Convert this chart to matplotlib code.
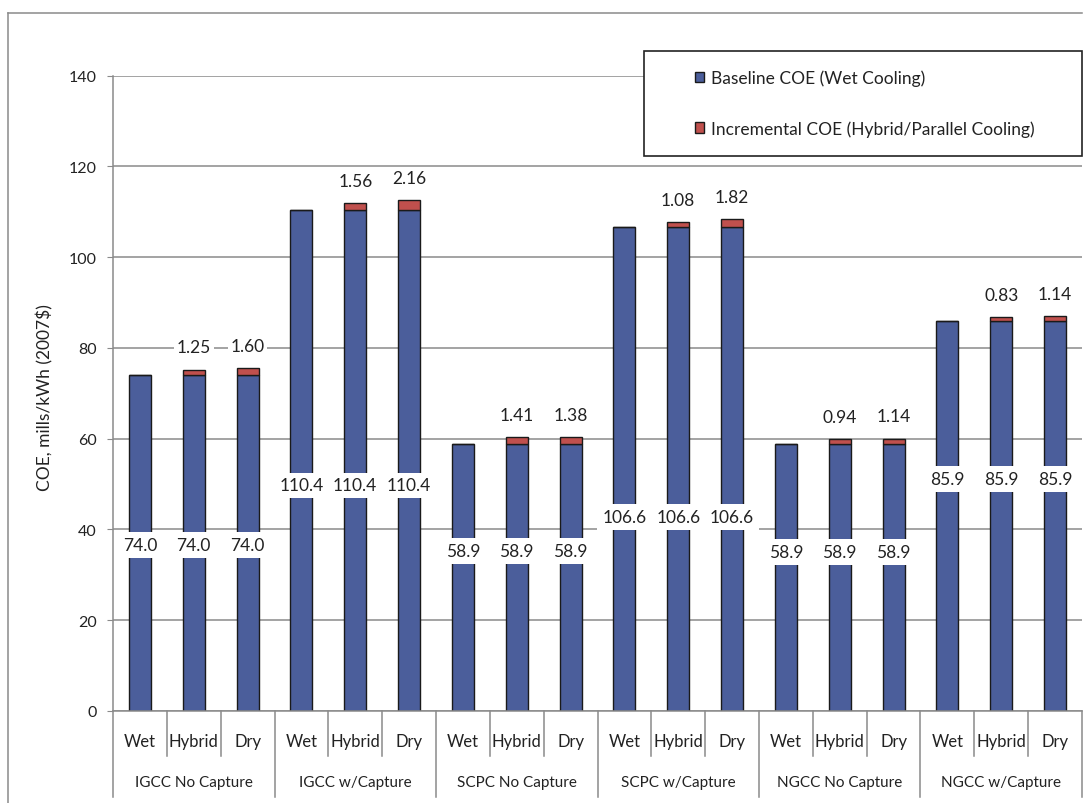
import numpy as np
import matplotlib
matplotlib.use("Agg")
import matplotlib.pyplot as plt
from matplotlib.patches import Rectangle, Patch
from matplotlib.lines import Line2D

plt.rcParams['font.family'] = ['Lato', 'DejaVu Sans']

# ---------------------------
# data
# ---------------------------
groups = ["IGCC No Capture", "IGCC w/Capture", "SCPC No Capture",
          "SCPC w/Capture", "NGCC No Capture", "NGCC w/Capture"]
cooling = ["Wet", "Hybrid", "Dry"]
baseline = [74.0, 110.4, 58.9, 106.6, 58.9, 85.9]
incr_hybrid = [1.25, 1.56, 1.41, 1.08, 0.94, 0.83]
incr_dry = [1.60, 2.16, 1.38, 1.82, 1.14, 1.14]

# where the baseline labels sit on each group (layout only)
base_label_y = [36.6, 49.7, 35.2, 42.8, 35.1, 51.2]

BLUE = "#4B5E9B"
RED = "#C0504D"
GRID = "#8a8a8a"
TXT = "#222222"
W, H = 1089, 804

fig = plt.figure(figsize=(W / 100, H / 100), dpi=100)
ax = fig.add_axes([113 / W, 1 - 712 / H, (1082 - 113) / W, (712 - 76.7) / H])

base_vals = []
incr_vals = []
for b, h, d in zip(baseline, incr_hybrid, incr_dry):
    base_vals += [b, b, b]
    incr_vals += [0.0, h, d]
base_vals = np.array(base_vals)
incr_vals = np.array(incr_vals)
x = np.arange(len(base_vals))

ax.bar(x, base_vals, width=0.41, color=BLUE, edgecolor="#1a1a1a", linewidth=1, zorder=2)
ax.bar(x, incr_vals, bottom=base_vals, width=0.41, color=RED, edgecolor="#1a1a1a",
       linewidth=1, zorder=2)

# baseline labels
for i, b in enumerate(base_vals):
    ax.text(x[i], base_label_y[i // 3], f"{b:.1f}", ha="center", va="center",
            fontsize=12.5, color=TXT, zorder=4,
            bbox=dict(facecolor="white", edgecolor="none", pad=3.5))

# incremental labels
for i, inc in enumerate(incr_vals):
    if inc > 0:
        ax.annotate(f"{inc:.2f}", xy=(x[i], base_vals[i] + inc), xytext=(0, 16),
                    textcoords="offset points", ha="center", va="center",
                    fontsize=12.5, color=TXT, zorder=4,
                    bbox=dict(facecolor="white", edgecolor="none", pad=2))

ax.set_xlim(-0.5, len(x) - 0.5)
ax.set_ylim(0, 140)
ax.set_yticks(np.arange(0, 141, 20))
ax.yaxis.grid(True, color=GRID, linewidth=1.1)
ax.set_axisbelow(True)
for s in ["top", "right"]:
    ax.spines[s].set_visible(False)
ax.spines["left"].set_color(GRID)
ax.spines["bottom"].set_color(GRID)
ax.spines["left"].set_linewidth(1.1)
ax.spines["bottom"].set_linewidth(1.1)
ax.tick_params(axis="y", length=4.5, color=GRID, pad=7, labelsize=11.5, labelcolor=TXT)
ax.set_xticks([])

# two-level category axis
trans = ax.get_xaxis_transform()
ah = 712 - 76.7
y_inner = -45 / ah
y_outer = -86 / ah
for g in range(len(groups) + 1):
    ax.plot([g * 3 - 0.5] * 2, [0, y_outer], transform=trans, color=GRID,
            linewidth=1.1, clip_on=False)
for g in range(len(groups)):
    for k in (0.5, 1.5):
        ax.plot([g * 3 + k] * 2, [0, y_inner], transform=trans, color=GRID,
                linewidth=1.1, clip_on=False)
    for k, c in enumerate(cooling):
        ax.text(g * 3 + k, -30 / ah, c, transform=trans, ha="center", va="center",
                fontsize=12, color=TXT)
    ax.text(g * 3 + 1, -71 / ah, groups[g], transform=trans, ha="center", va="center",
            fontsize=11, color=TXT)

fig.text(45 / W, 1 - 398 / H, "COE, mills/kWh (2007$)", rotation=90,
         ha="center", va="center", fontsize=12.5, color=TXT)

# outer chart frame (left and top visible)
fig.add_artist(Line2D([8 / W, 8 / W], [0, 1 - 14 / H], color=GRID, linewidth=1.1))
fig.add_artist(Line2D([8 / W, 1082 / W], [1 - 14 / H, 1 - 14 / H], color=GRID, linewidth=1.1))

# legend box
fig.add_artist(Rectangle((644 / W, 1 - 156.7 / H), (1082 - 644) / W, (156.7 - 52.3) / H,
                         transform=fig.transFigure, facecolor="white",
                         edgecolor=TXT, linewidth=1.2, zorder=5))
handles = [Patch(facecolor=BLUE, edgecolor="#1a1a1a"),
           Patch(facecolor=RED, edgecolor="#1a1a1a")]
leg = fig.legend(handles, ["Baseline COE (Wet Cooling)",
                           "Incremental COE (Hybrid/Parallel Cooling)"],
                 loc="center left", bbox_to_anchor=(695 / W, 1 - 104.2 / H),
                 frameon=False, fontsize=12.5, handlelength=0.52, handleheight=0.52,
                 handletextpad=0.4, labelspacing=1.95, borderpad=0, borderaxespad=0)
leg.set_zorder(6)
for t in leg.get_texts():
    t.set_color(TXT)

fig.savefig("out.png", dpi=100, facecolor="white")
